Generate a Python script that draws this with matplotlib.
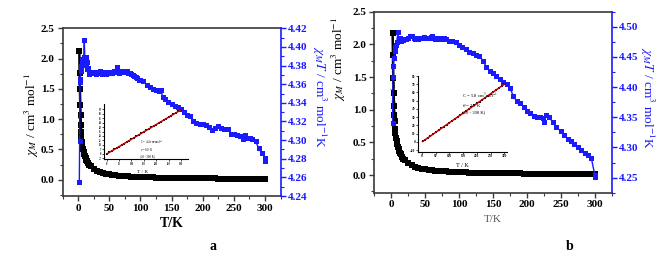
import matplotlib
matplotlib.use('Agg')
import matplotlib.pyplot as plt
from matplotlib.ticker import MultipleLocator

plt.rcParams['font.family'] = ['Liberation Serif', 'DejaVu Serif']
plt.rcParams['mathtext.fontset'] = 'stix'

# ---- chi_M vs T (black squares), same temperatures for both samples
T_chi = [2, 2.5, 3, 3.5, 4, 4.5, 5, 5.5, 6, 7, 8, 9, 10, 11, 12, 13, 14, 16, 18,
         20, 25, 30, 35, 40, 45, 50, 55, 60, 65, 70, 75, 80, 85, 90, 95, 100,
         105, 110, 115, 120, 125, 130, 135, 140, 145, 150, 155, 160, 165, 170,
         175, 180, 185, 190, 195, 200, 205, 210, 215, 220, 225, 230, 235, 240,
         245, 250, 255, 260, 265, 270, 275, 280, 285, 290, 295, 300]
chi_a = [2.13, 1.76, 1.49, 1.24, 1.06, 0.90, 0.79, 0.70, 0.63, 0.56, 0.51, 0.46,
         0.42, 0.39, 0.36, 0.33, 0.31, 0.27, 0.24,
         0.218, 0.175, 0.146, 0.125, 0.109, 0.097, 0.087, 0.079, 0.073, 0.067,
         0.062, 0.058, 0.055, 0.051, 0.049, 0.046, 0.044, 0.042, 0.040, 0.038,
         0.036, 0.035, 0.034, 0.032, 0.031, 0.030, 0.029, 0.028, 0.027, 0.026,
         0.026, 0.025, 0.024, 0.023, 0.023, 0.022, 0.022, 0.021, 0.021, 0.020,
         0.020, 0.019, 0.019, 0.018, 0.018, 0.018, 0.017, 0.017, 0.017, 0.016,
         0.016, 0.016, 0.015, 0.015, 0.015, 0.015, 0.014]
chi_b = [2.18, 1.84, 1.48, 1.26, 1.05, 0.92, 0.82, 0.71, 0.64, 0.57, 0.52, 0.47,
         0.43, 0.40, 0.37, 0.34, 0.32, 0.28, 0.25,
         0.224, 0.179, 0.149, 0.128, 0.112, 0.100, 0.090, 0.081, 0.075, 0.069,
         0.064, 0.060, 0.056, 0.053, 0.050, 0.047, 0.045, 0.043, 0.041, 0.039,
         0.037, 0.036, 0.034, 0.033, 0.032, 0.031, 0.030, 0.029, 0.028, 0.027,
         0.026, 0.026, 0.025, 0.024, 0.024, 0.023, 0.022, 0.022, 0.021, 0.021,
         0.020, 0.020, 0.019, 0.019, 0.019, 0.018, 0.018, 0.017, 0.017, 0.017,
         0.016, 0.016, 0.016, 0.016, 0.015, 0.015, 0.015]

# ---- chi_M T vs T (blue squares)
T_chiT_a = [2, 2.5, 3, 3.5, 4, 5, 6, 7, 8, 9, 10, 11, 12, 13, 14, 15, 16, 18, 20,
            22, 25, 28, 30, 33, 35, 38, 40, 43, 45, 48, 50, 53, 55, 58, 60, 63,
            65, 68, 70, 73, 75, 78, 80, 83, 85, 88, 90, 93, 95, 98, 100, 105,
            110, 115, 120, 125, 130, 133, 136, 140, 145, 150, 155, 160, 165,
            170, 175, 180, 185, 190, 195, 200, 205, 210, 215, 220, 225, 230,
            235, 240, 245, 250, 255, 260, 265, 268, 272, 276, 280, 285, 290,
            295, 300, 300]
chiT_a = [4.255, 4.299, 4.362, 4.366, 4.374, 4.379, 4.383, 4.387, 4.385, 4.389,
          4.407, 4.386, 4.389, 4.381, 4.384, 4.376, 4.377, 4.371, 4.373, 4.372,
          4.373, 4.371, 4.373, 4.372, 4.374, 4.371, 4.373, 4.372, 4.371, 4.373,
          4.372, 4.373, 4.372, 4.374, 4.373, 4.378, 4.372, 4.373, 4.374, 4.374,
          4.373, 4.374, 4.372, 4.372, 4.371, 4.370, 4.369, 4.368, 4.367, 4.365,
          4.364, 4.363, 4.359, 4.357, 4.355, 4.354, 4.353, 4.354, 4.346, 4.344,
          4.341, 4.339, 4.337, 4.335, 4.333, 4.330, 4.327, 4.326, 4.321, 4.318,
          4.317, 4.317, 4.316, 4.314, 4.311, 4.313, 4.315, 4.313, 4.312, 4.312,
          4.307, 4.307, 4.306, 4.304, 4.301, 4.305, 4.302, 4.302, 4.301, 4.299,
          4.291, 4.286, 4.281, 4.278]

T_chiT_b = [2, 2.5, 3, 4, 5, 6, 7, 8, 10, 11, 12, 13, 14, 15, 17, 20, 22, 25, 28,
            30, 33, 35, 38, 40, 43, 45, 48, 50, 53, 55, 58, 60, 63, 65, 68, 70,
            73, 75, 78, 80, 85, 90, 95, 100, 105, 110, 115, 120, 125, 130, 135,
            140, 145, 150, 155, 160, 165, 170, 175, 180, 185, 190, 195, 200,
            205, 210, 215, 220, 223, 225, 228, 233, 238, 243, 250, 255, 260,
            265, 270, 275, 280, 285, 290, 295, 300, 300]
chiT_b = [4.341, 4.416, 4.435, 4.449, 4.460, 4.466, 4.470, 4.474, 4.492, 4.477,
          4.478, 4.482, 4.476, 4.479, 4.478, 4.480, 4.479, 4.482, 4.485, 4.484,
          4.481, 4.480, 4.482, 4.480, 4.481, 4.482, 4.483, 4.482, 4.481, 4.482,
          4.483, 4.485, 4.481, 4.480, 4.480, 4.481, 4.480, 4.480, 4.481, 4.479,
          4.477, 4.476, 4.474, 4.470, 4.466, 4.463, 4.459, 4.456, 4.454, 4.452,
          4.444, 4.434, 4.427, 4.423, 4.418, 4.413, 4.409, 4.405, 4.399, 4.385,
          4.377, 4.374, 4.367, 4.361, 4.357, 4.352, 4.350, 4.350, 4.349, 4.343,
          4.354, 4.350, 4.342, 4.334, 4.327, 4.320, 4.314, 4.310, 4.305, 4.300,
          4.295, 4.291, 4.287, 4.282, 4.255, 4.251]

# ---- insets: 1/chi_M vs T with Curie-Weiss fit
T_inv = [2, 10, 20, 30, 40, 50, 60, 70, 80, 90, 100, 110, 120, 130, 140, 150,
         160, 170, 180, 190, 200, 210, 220, 230, 240, 250, 260, 270, 280, 290, 300]
inv_a = [0.5, 2.3, 4.6, 6.9, 9.2, 11.5, 13.7, 16.0, 18.3, 20.6, 22.9, 25.2, 27.5,
         29.8, 32.1, 34.4, 36.7, 39.0, 41.3, 43.6, 45.9, 48.1, 50.4, 52.7, 55.0,
         57.3, 59.6, 61.9, 64.2, 66.5, 68.8]
inv_b = [0.5, 2.3, 4.7, 7.0, 9.3, 11.6, 14.0, 16.3, 18.6, 21.0, 23.3, 25.6, 28.0,
         30.3, 32.6, 35.0, 37.3, 39.6, 42.0, 44.3, 46.6, 49.0, 51.3, 53.6, 56.0,
         58.3, 60.6, 63.0, 65.3, 67.6, 70.0]
fit_T = [2, 300]
fit_a = [0.4, 68.8]
fit_b = [0.4, 70.0]

BLUE = '#1a1aff'
FRAME = '#3a3a3a'
W, H = 669, 257


def px_rect(left, top, right, bottom):
    # pixel box -> figure fraction
    return [left / W, 1 - bottom / H, (right - left) / W, (bottom - top) / H]


def bold_ticks(ax, size):
    for lab in ax.get_xticklabels() + ax.get_yticklabels():
        lab.set_fontweight('bold')
        lab.set_fontsize(size)


def main_panel(rect, chi, T_chiT, chiT, rlim, rmajor, bold_xlabel):
    ax = fig.add_axes(rect)
    ax.plot(T_chi, chi, '-s', color='black', lw=1.8, ms=3.8, mew=0)
    ax.set_xlim(-25, 325)
    ax.set_ylim(-0.27, 2.5)
    ax.xaxis.set_major_locator(MultipleLocator(50))
    ax.xaxis.set_minor_locator(MultipleLocator(25))
    ax.yaxis.set_major_locator(MultipleLocator(0.5))
    ax.yaxis.set_minor_locator(MultipleLocator(0.25))
    ax.tick_params(which='major', length=3.5, width=1, color=FRAME, pad=2)
    ax.tick_params(which='minor', length=2, width=0.8, color=FRAME)
    for s in ['left', 'bottom', 'top']:
        ax.spines[s].set_color(FRAME)
        ax.spines[s].set_linewidth(1.2)
    ax.spines['right'].set_visible(False)
    ax.set_xticks([0, 50, 100, 150, 200, 250, 300])
    ax.set_yticks([0.0, 0.5, 1.0, 1.5, 2.0, 2.5])
    ax.set_yticklabels(['0.0', '0.5', '1.0', '1.5', '2.0', '2.5'])

    ax2 = ax.twinx()
    ax2.plot(T_chiT, chiT, '-s', color=BLUE, lw=1.0, ms=3.6, mew=0)
    ax2.set_ylim(*rlim)
    ax2.yaxis.set_major_locator(MultipleLocator(rmajor))
    ax2.yaxis.set_minor_locator(MultipleLocator(rmajor / 2))
    ax2.tick_params(which='major', length=3.5, width=1, color=BLUE,
                    labelcolor=BLUE, pad=1.5)
    ax2.tick_params(which='minor', length=2, width=0.8, color=BLUE)
    ax2.spines['right'].set_color(BLUE)
    ax2.spines['right'].set_linewidth(1.2)
    for s in ['left', 'bottom', 'top']:
        ax2.spines[s].set_visible(False)

    bold_ticks(ax, 8)
    bold_ticks(ax2, 8)
    if bold_xlabel:
        ax.set_xlabel('T/K', fontsize=10, fontweight='bold', labelpad=3)
    else:
        ax.set_xlabel('T/K', fontsize=8, color='#555555', labelpad=4)
    return ax, ax2


def inset(rect, inv, fit_y, xlim, ylim, yticks, fs, ylab_xy, txt, txt_xy, txt_fs, xlab):
    ai = fig.add_axes(rect)
    ai.patch.set_alpha(0)
    ai.plot(T_inv, inv, 's', color='black', ms=1.8, mew=0)
    ai.plot(fit_T, fit_y, '-', color='#c00000', lw=1.1)
    ai.set_xlim(*xlim)
    ai.set_ylim(*ylim)
    ai.set_xticks([0, 50, 100, 150, 200, 250, 300])
    ai.set_yticks(yticks)
    ai.spines['top'].set_visible(False)
    ai.spines['right'].set_visible(False)
    for s in ['left', 'bottom']:
        ai.spines[s].set_linewidth(0.8)
    ai.tick_params(length=1.2, width=0.5, labelsize=fs, pad=0.8)
    for lab in ai.get_xticklabels() + ai.get_yticklabels():
        lab.set_fontweight('bold')
    ai.text(ylab_xy[0], ylab_xy[1], r'$\chi_M^{-1}$ / cm$^{-3}$mol', rotation=90,
            transform=ai.transAxes, fontsize=fs + 0.6, ha='center', va='center')
    ai.text(txt_xy[0], txt_xy[1], txt, transform=ai.transAxes, fontsize=txt_fs,
            ha='left', va='top', linespacing=1.25)
    ai.text(xlab[0], xlab[1], 'T / K', transform=ai.transAxes,
            fontsize=fs + 2, ha='center', va='center')
    return ai


fig = plt.figure(figsize=(W / 100, H / 100), dpi=100)

# panel a
ax_a, ax2_a = main_panel(px_rect(62.5, 28.3, 280.5, 196), chi_a, T_chiT_a, chiT_a,
                         (4.24, 4.42), 0.02, True)
ax_a.set_ylabel(r'$\chi_M$ / cm$^3$ mol$^{-1}$', fontsize=9.5)
ax_a.yaxis.set_label_coords(-0.1, 0.48)
ax2_a.set_ylabel(r'$\chi_M T$ / cm$^3$ mol$^{-1}$K', fontsize=9.5, color=BLUE,
                 rotation=-90, va='center')
ax2_a.yaxis.set_label_coords(1.175, 0.59)

# panel b
ax_b, ax2_b = main_panel(px_rect(374.3, 11.7, 611.7, 192.7), chi_b, T_chiT_b, chiT_b,
                         (4.225, 4.525), 0.05, False)
ax_b.set_ylabel(r'$\chi_M$ / cm$^3$ mol$^{-1}$', fontsize=9.5)
ax_b.yaxis.set_label_coords(-0.11, 0.74)
ax2_b.set_ylabel(r'$\chi_M T$ / cm$^3$ mol$^{-1}$K', fontsize=9.5, color=BLUE,
                 rotation=-90, va='center')
ax2_b.yaxis.set_label_coords(1.15, 0.52)

# insets
inset(px_rect(104.3, 104, 188.3, 159), inv_a, fit_a, (-10, 330), (-8, 78),
      [-7, 0, 7, 14, 21, 28, 35, 42, 49, 56, 63, 70], 1.8, (-0.28, 0.6),
      'C = 4.4 cm$^3$mol$^{-1}$\n$\\theta$ = 0.0 K\n(20 - 300 K)',
      (0.43, 0.38), 2.2, (0.45, -0.24))
inset(px_rect(418, 76, 507, 151.7), inv_b, fit_b, (-15, 310), (-12, 80),
      [-10, 0, 10, 20, 30, 40, 50, 60, 70, 80], 2.4, (-0.25, 0.78),
      'C = 5.8 cm$^3$mol$^{-1}$\n$\\theta$ = 2.0 K\n(20 - 300 K)',
      (0.49, 0.8), 3.4, (0.5, -0.18))

fig.text(213 / W, 1 - 247 / H, 'a', fontsize=10, fontweight='bold',
         ha='center', va='center')
fig.text(570 / W, 1 - 247 / H, 'b', fontsize=10, fontweight='bold',
         ha='center', va='center')

fig.savefig('out.png', dpi=100)
